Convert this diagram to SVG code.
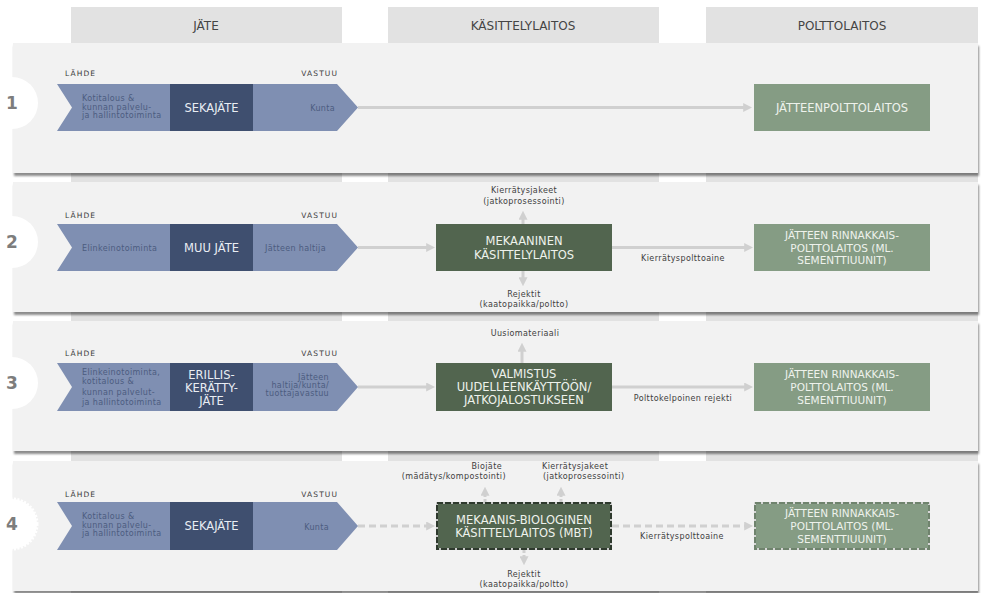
<svg xmlns="http://www.w3.org/2000/svg" width="993" height="593" viewBox="0 0 993 593">
  <defs>
    <style>
      text { font-family: "DejaVu Sans", Verdana, sans-serif; }
      .col { fill: #e2e2e2; }
      .colhead { font-size: 12px; fill: #454545; text-anchor: middle; }
      .panel { fill: #f2f2f2; }
      .numc { fill: #ffffff; }
      .num { font-size: 17px; font-weight: bold; fill: #7d7d7d; text-anchor: middle; }
      .chev { fill: #7f8fb2; }
      .core { fill: #3f4f6f; }
      .small { font-size: 8px; letter-spacing: 0.35px; fill: #4c5c80; }
      .tag { font-size: 7.5px; letter-spacing: 1.1px; fill: #3a3a3a; }
      .core-t { font-size: 11.5px; fill: #e9edf3; text-anchor: middle; }
      .plant { fill: #52654f; }
      .burn { fill: #859c84; }
      .box-t { font-size: 11.5px; fill: #eef2ec; text-anchor: middle; }
      .box-s { font-size: 10.5px; fill: #eef2ec; text-anchor: middle; }
      .lbl { font-size: 8px; letter-spacing: 0.4px; fill: #404040; }
      .flow { stroke: #d0d0d0; stroke-width: 3; fill: none; marker-end: url(#ah); }
      .dash { stroke-dasharray: 7 4; }
      .dot { stroke-dasharray: 3 2; }
    </style>
    <marker id="ah" viewBox="0 0 10 10" refX="2" refY="5" markerWidth="9" markerHeight="9" markerUnits="userSpaceOnUse" orient="auto">
      <path d="M0,0 L10,5 L0,10 Z" fill="#d0d0d0"/>
    </marker>
    <filter id="sh" x="-2%" y="-5%" width="104%" height="115%">
      <feDropShadow dx="1" dy="3" stdDeviation="1.2" flood-color="#000" flood-opacity="0.45"/>
    </filter>
  </defs>

  <rect width="993" height="593" fill="#ffffff"/>

  <!-- column bands with headers -->
  <g id="columns">
    <rect class="col" x="71" y="7" width="271" height="586"/>
    <rect class="col" x="388" y="7" width="271" height="586"/>
    <rect class="col" x="706" y="7" width="272" height="586"/>
    <text class="colhead" x="206" y="30">JÄTE</text>
    <text class="colhead" x="523" y="30">KÄSITTELYLAITOS</text>
    <text class="colhead" x="842" y="30">POLTTOLAITOS</text>
  </g>

  <!-- row panels -->
  <g id="panels" filter="url(#sh)">
    <rect class="panel" x="13" y="43" width="965" height="130"/>
    <rect class="panel" x="13" y="182" width="965" height="130"/>
    <rect class="panel" x="13" y="321" width="965" height="130"/>
    <rect class="panel" x="13" y="461" width="965" height="130"/>
  </g>

  <!-- row numbers -->
  <g id="row-numbers">
    <circle class="numc" cx="12" cy="103" r="26"/>
    <text class="num" x="12" y="109">1</text>
    <circle class="numc" cx="12" cy="242" r="26"/>
    <text class="num" x="12" y="248">2</text>
    <circle class="numc" cx="12" cy="383" r="26"/>
    <text class="num" x="12" y="389">3</text>
    <circle class="numc" cx="12" cy="524" r="25" stroke="#ffffff" stroke-width="3" stroke-dasharray="2 1.5"/>
    <text class="num" x="12" y="530">4</text>
  </g>

  <!-- connectors -->
  <g id="connectors">
    <line class="flow" x1="358" y1="107.5" x2="745" y2="107.5"/>

    <line class="flow" x1="358" y1="247.5" x2="428" y2="247.5"/>
    <line class="flow" x1="612" y1="247.5" x2="746" y2="247.5"/>
    <line class="flow" x1="523" y1="224" x2="523" y2="218"/>
    <line class="flow" x1="523" y1="271" x2="523" y2="279"/>

    <line class="flow" x1="358" y1="387" x2="428" y2="387"/>
    <line class="flow" x1="612" y1="387" x2="746" y2="387"/>
    <line class="flow" x1="522" y1="363" x2="522" y2="350"/>

    <line class="flow dash" x1="358" y1="526" x2="428" y2="526"/>
    <line class="flow dash" x1="612" y1="526" x2="746" y2="526"/>
    <line class="flow dot" x1="485" y1="502" x2="485" y2="494"/>
    <line class="flow dot" x1="561" y1="502" x2="561" y2="494"/>
    <line class="flow dot" x1="524" y1="550" x2="524" y2="558"/>
  </g>

  <!-- row 1 -->
  <g id="source-1">
    <text class="tag" x="65" y="76">LÄHDE</text>
    <text class="tag" x="338" y="76" text-anchor="end">VASTUU</text>
    <polygon class="chev" points="57,84 337,84 358,107.5 337,131 57,131 72,107.5"/>
    <rect class="core" x="170" y="84" width="83" height="47"/>
    <text class="small" x="82" y="101">Kotitalous &amp;</text>
    <text class="small" x="82" y="109.5">kunnan palvelu-</text>
    <text class="small" x="82" y="118">ja hallintotoiminta</text>
    <text class="core-t" x="211.5" y="112">SEKAJÄTE</text>
    <text class="small" x="335" y="111" text-anchor="end">Kunta</text>
  </g>
  <g id="burn-1">
    <rect class="burn" x="754" y="84" width="176" height="47"/>
    <text class="box-t" x="842" y="112">JÄTTEENPOLTTOLAITOS</text>
  </g>

  <!-- row 2 -->
  <g id="source-2">
    <text class="tag" x="65" y="218">LÄHDE</text>
    <text class="tag" x="338" y="218" text-anchor="end">VASTUU</text>
    <polygon class="chev" points="57,224 337,224 358,247.5 337,271 57,271 72,247.5"/>
    <rect class="core" x="170" y="224" width="83" height="47"/>
    <text class="small" x="82" y="251">Elinkeinotoiminta</text>
    <text class="core-t" x="211.5" y="251.5">MUU JÄTE</text>
    <text class="small" x="265" y="251">Jätteen haltija</text>
  </g>
  <g id="plant-2">
    <rect class="plant" x="436" y="224" width="176" height="47"/>
    <text class="box-t" x="524" y="244.5">MEKAANINEN</text>
    <text class="box-t" x="524" y="258.5">KÄSITTELYLAITOS</text>
  </g>
  <g id="burn-2">
    <rect class="burn" x="754" y="224" width="176" height="47"/>
    <text class="box-s" x="842" y="239">JÄTTEEN RINNAKKAIS-</text>
    <text class="box-s" x="842" y="251.5">POLTTOLAITOS (ML.</text>
    <text class="box-s" x="842" y="264">SEMENTTIUUNIT)</text>
  </g>
  <g id="labels-2">
    <text class="lbl" x="524" y="193" text-anchor="middle">Kierrätysjakeet</text>
    <text class="lbl" x="524" y="204" text-anchor="middle">(jatkoprosessointi)</text>
    <text class="lbl" x="524" y="296.5" text-anchor="middle">Rejektit</text>
    <text class="lbl" x="524" y="306.5" text-anchor="middle">(kaatopaikka/poltto)</text>
    <text class="lbl" x="683" y="260.5" text-anchor="middle">Kierrätyspolttoaine</text>
  </g>

  <!-- row 3 -->
  <g id="source-3">
    <text class="tag" x="65" y="356">LÄHDE</text>
    <text class="tag" x="338" y="356" text-anchor="end">VASTUU</text>
    <polygon class="chev" points="57,363 337,363 358,387 337,411 57,411 72,387"/>
    <rect class="core" x="170" y="363" width="83" height="48"/>
    <text class="small" x="82" y="375">Elinkeinotoiminta,</text>
    <text class="small" x="82" y="384">kotitalous &amp;</text>
    <text class="small" x="82" y="395">kunnan palvelut-</text>
    <text class="small" x="82" y="405">ja hallintotoiminta</text>
    <text class="core-t" x="211.5" y="378.5">ERILLIS-</text>
    <text class="core-t" x="211.5" y="392">KERÄTTY-</text>
    <text class="core-t" x="211.5" y="404.5">JÄTE</text>
    <text class="small" x="329" y="379.5" text-anchor="end">Jätteen</text>
    <text class="small" x="329" y="387.5" text-anchor="end">haltija/kunta/</text>
    <text class="small" x="329" y="395.5" text-anchor="end">tuottajavastuu</text>
  </g>
  <g id="plant-3">
    <rect class="plant" x="436" y="363" width="176" height="48"/>
    <text class="box-t" x="524" y="378">VALMISTUS</text>
    <text class="box-t" x="524" y="391">UUDELLEENKÄYTTÖÖN/</text>
    <text class="box-t" x="524" y="404">JATKOJALOSTUKSEEN</text>
  </g>
  <g id="burn-3">
    <rect class="burn" x="754" y="363" width="176" height="48"/>
    <text class="box-s" x="842" y="378">JÄTTEEN RINNAKKAIS-</text>
    <text class="box-s" x="842" y="391">POLTTOLAITOS (ML.</text>
    <text class="box-s" x="842" y="404">SEMENTTIUUNIT)</text>
  </g>
  <g id="labels-3">
    <text class="lbl" x="525" y="335.5" text-anchor="middle">Uusiomateriaali</text>
    <text class="lbl" x="683" y="400.5" text-anchor="middle">Polttokelpoinen rejekti</text>
  </g>

  <!-- row 4 -->
  <g id="source-4">
    <text class="tag" x="65" y="497">LÄHDE</text>
    <text class="tag" x="338" y="497" text-anchor="end">VASTUU</text>
    <polygon class="chev" points="57,502 337,502 358,526 337,550 57,550 72,526"/>
    <rect class="core" x="170" y="502" width="83" height="48"/>
    <text class="small" x="82" y="519">Kotitalous &amp;</text>
    <text class="small" x="82" y="527.5">kunnan palvelu-</text>
    <text class="small" x="82" y="536">ja hallintotoiminta</text>
    <text class="core-t" x="211.5" y="530">SEKAJÄTE</text>
    <text class="small" x="329" y="529.5" text-anchor="end">Kunta</text>
  </g>
  <g id="plant-4">
    <rect class="plant" x="437" y="503" width="174" height="46" stroke="#c9c9c9" stroke-width="2"/>
    <rect x="437" y="503" width="174" height="46" fill="none" stroke="#2e392d" stroke-width="2" stroke-dasharray="6 2"/>
    <text class="box-t" x="524" y="523.5">MEKAANIS-BIOLOGINEN</text>
    <text class="box-t" x="524" y="537">KÄSITTELYLAITOS (MBT)</text>
  </g>
  <g id="burn-4">
    <rect class="burn" x="755" y="503" width="174" height="46" stroke="#d6d6d6" stroke-width="2"/>
    <rect x="755" y="503" width="174" height="46" fill="none" stroke="#6f836d" stroke-width="2" stroke-dasharray="6 2"/>
    <text class="box-s" x="842" y="517">JÄTTEEN RINNAKKAIS-</text>
    <text class="box-s" x="842" y="530">POLTTOLAITOS (ML.</text>
    <text class="box-s" x="842" y="543">SEMENTTIUUNIT)</text>
  </g>
  <g id="labels-4">
    <text class="lbl" x="502" y="469" text-anchor="end">Biojäte</text>
    <text class="lbl" x="506" y="479" text-anchor="end">(mädätys/kompostointi)</text>
    <text class="lbl" x="542" y="469">Kierrätysjakeet</text>
    <text class="lbl" x="543" y="479">(jatkoprosessointi)</text>
    <text class="lbl" x="682" y="538.5" text-anchor="middle">Kierrätyspolttoaine</text>
    <text class="lbl" x="524" y="576.5" text-anchor="middle">Rejektit</text>
    <text class="lbl" x="524" y="586.5" text-anchor="middle">(kaatopaikka/poltto)</text>
  </g>
</svg>
